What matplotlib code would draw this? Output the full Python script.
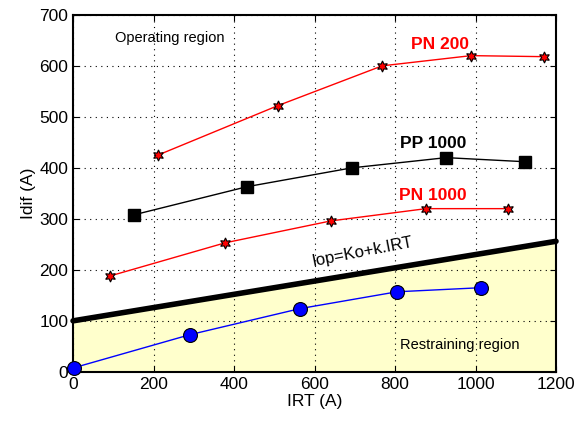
import matplotlib
matplotlib.use("Agg")
import matplotlib.pyplot as plt
import numpy as np

plt.rcParams['font.family'] = ['Liberation Sans', 'DejaVu Sans']

pn200_x = [211, 509, 768, 989, 1170]
pn200_y = [425, 522, 600, 620, 618]
pp1000_x = [152, 432, 693, 927, 1123]
pp1000_y = [308, 363, 400, 420, 412]
pn1000_x = [92, 378, 641, 877, 1081]
pn1000_y = [188, 253, 296, 320, 320]
blue_x = [2, 291, 564, 805, 1014]
blue_y = [8, 73, 124, 157, 165]
Ko = 100
k = 0.13
xticks = [0, 200, 400, 600, 800, 1000, 1200]
yticks = [0, 100, 200, 300, 400, 500, 600, 700]

fig = plt.figure(figsize=(5.75, 4.24), dpi=100)
ax = fig.add_axes([0.127, 0.123, 0.840, 0.842])

lx = np.array([0, 1200])
ly = Ko + k * lx
ax.fill_between(lx, 0, ly, color="#FFFFCC", zorder=0)
ax.plot(lx, ly, color="black", lw=4, solid_capstyle="round", zorder=2, clip_on=False)

star = (6, 1, 0)
ax.plot(pn200_x, pn200_y, color="red", lw=1, marker=star, ms=8, mfc="red", mec="black", mew=0.8, zorder=3)
ax.plot(pp1000_x, pp1000_y, color="black", lw=1, marker="s", ms=9, mfc="black", mec="black", zorder=3)
ax.plot(pn1000_x, pn1000_y, color="red", lw=1, marker=star, ms=8, mfc="red", mec="black", mew=0.8, zorder=3)
ax.plot(blue_x, blue_y, color="blue", lw=1, marker="o", ms=10, mfc="blue", mec="black", mew=0.8, zorder=3, clip_on=False)

ax.set_xlim(0, 1200)
ax.set_ylim(0, 700)
ax.set_xticks(xticks)
ax.set_yticks(yticks)
ax.tick_params(labelsize=12.5, direction="in", length=4, top=True, right=True)
ax.grid(True, linestyle=(0, (1, 4)), color="black", lw=0.8)
for s in ax.spines.values():
    s.set_linewidth(1.5)
ax.set_xlabel("IRT (A)", fontsize=12.5, labelpad=2)
ax.set_ylabel("Idif (A)", fontsize=12.5, labelpad=2)

ax.text(912, 641, "PN 200", color="red", fontweight="bold", fontsize=12.5, ha="center", va="center")
ax.text(894, 447, "PP 1000", color="black", fontweight="bold", fontsize=12.5, ha="center", va="center")
ax.text(894, 345, "PN 1000", color="red", fontweight="bold", fontsize=12.5, ha="center", va="center")
ax.text(241, 655, "Operating region", fontsize=10.5, ha="center", va="center")
ax.text(961, 53, "Restraining region", fontsize=10.5, ha="center", va="center")
ax.text(718, 235, "Iop=Ko+k.IRT", fontsize=12, ha="center", va="center", rotation=11)

fig.savefig("out.png", dpi=100)
